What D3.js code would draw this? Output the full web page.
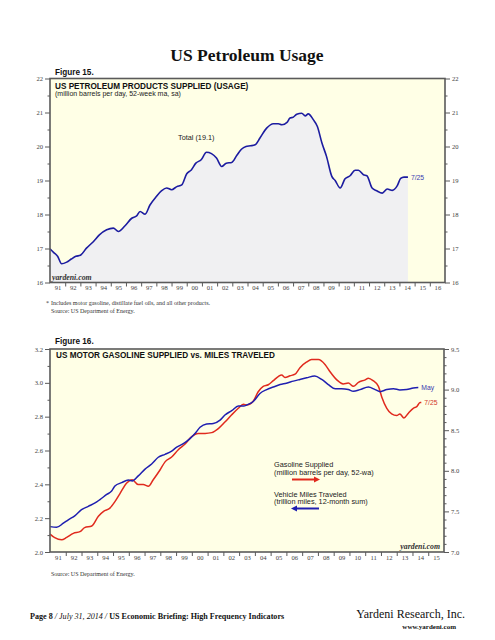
<!DOCTYPE html>
<html><head><meta charset="utf-8">
<script src="https://cdn.jsdelivr.net/npm/d3@7/dist/d3.min.js"></script>
<style>body{margin:0;background:#fff}</style>
</head><body>
<svg id="c" width="495" height="640"></svg>
<script>
// ---------- DATA ----------
// Figure 15: US petroleum products supplied (million b/d, 52-week ma)
const petroYears = [1991.0,1991.25,1991.5,1991.77,1992.1,1992.4,1992.7,1993.0,1993.4,1993.85,1994.25,1994.73,1995.17,1995.5,1995.94,1996.38,1996.7,1996.93,1997.26,1997.58,1998.0,1998.35,1998.68,1999.0,1999.35,1999.67,2000.0,2000.3,2000.6,2000.95,2001.3,2001.63,2001.96,2002.3,2002.6,2002.96,2003.3,2003.6,2003.9,2004.2,2004.5,2004.82,2005.26,2005.7,2006.03,2006.26,2006.6,2006.8,2007.0,2007.24,2007.57,2007.8,2008.0,2008.33,2008.6,2008.9,2009.2,2009.55,2009.77,2010.1,2010.42,2010.75,2011.08,2011.3,2011.63,2011.86,2012.2,2012.5,2012.87,2013.2,2013.53,2013.86,2014.08,2014.3,2014.56];
const petroValues = [16.99,16.88,16.77,16.55,16.6,16.69,16.77,16.8,17.01,17.2,17.4,17.55,17.6,17.5,17.67,17.89,17.96,18.09,18.01,18.28,18.53,18.7,18.78,18.73,18.82,18.87,19.2,19.31,19.51,19.61,19.83,19.79,19.66,19.41,19.51,19.53,19.74,19.92,20.0,20.02,20.05,20.25,20.54,20.67,20.67,20.64,20.71,20.84,20.86,20.95,20.98,20.9,20.96,20.79,20.59,20.1,19.71,19.12,19.0,18.78,19.05,19.14,19.3,19.3,19.17,19.14,18.78,18.7,18.63,18.75,18.71,18.85,19.06,19.1,19.1];
const petroTicks = [16,17,18,19,20,21,22];
const petroMinor = [16.5,17.5,18.5,19.5,20.5,21.5];
const fig15YearLabels = ['91','92','93','94','95','96','97','98','99','00','01','02','03','04','05','06','07','08','09','10','11','12','13','14','15','16'];

// Figure 16: vehicle miles traveled (trillion miles, 12-mo sum) - left axis
const vmtYears = [1991.0,1991.42,1991.85,1992.16,1992.59,1993.0,1993.43,1993.86,1994.17,1994.6,1994.91,1995.12,1995.55,1995.97,1996.22,1996.6,1997.03,1997.45,1997.87,1998.3,1998.72,1999.04,1999.46,1999.88,2000.2,2000.52,2000.94,2001.36,2001.79,2002.1,2002.53,2002.95,2003.3,2003.48,2003.9,2004.32,2004.75,2005.17,2005.6,2006.0,2006.44,2006.86,2007.29,2007.8,2008.24,2008.66,2009.1,2009.5,2009.93,2010.25,2010.67,2011.2,2011.63,2011.95,2012.37,2012.8,2013.2,2013.63,2014.05,2014.37];
const vmtValues = [2.15,2.146,2.17,2.19,2.215,2.25,2.27,2.29,2.31,2.34,2.36,2.39,2.41,2.425,2.42,2.45,2.49,2.52,2.56,2.577,2.597,2.62,2.64,2.67,2.70,2.737,2.757,2.76,2.78,2.81,2.835,2.863,2.863,2.869,2.89,2.937,2.96,2.975,2.99,2.998,3.01,3.02,3.03,3.04,3.02,2.99,2.965,2.965,2.96,2.95,2.96,2.975,2.96,2.948,2.96,2.965,2.958,2.96,2.97,2.973];
// Gasoline supplied (million b/d, 52-wa) - right axis
const gasYears = [1991.0,1991.3,1991.74,1992.06,1992.48,1992.9,1993.2,1993.65,1994.07,1994.4,1994.8,1995.12,1995.44,1995.87,1996.22,1996.6,1996.92,1997.24,1997.55,1997.98,1998.3,1998.72,1999.14,1999.57,1999.99,2000.4,2000.84,2001.26,2001.68,2002.1,2002.53,2002.95,2003.27,2003.48,2003.9,2004.2,2004.53,2004.85,2005.17,2005.48,2005.7,2005.91,2006.23,2006.55,2006.86,2007.29,2007.6,2008.03,2008.45,2008.77,2009.2,2009.6,2009.93,2010.25,2010.57,2011.0,2011.2,2011.5,2011.84,2012.05,2012.37,2012.68,2013.0,2013.2,2013.46,2013.74,2014.05,2014.27,2014.48,2014.56];
const gasValues = [7.22,7.176,7.15,7.18,7.23,7.25,7.30,7.32,7.44,7.50,7.54,7.62,7.72,7.85,7.89,7.83,7.83,7.81,7.89,8.01,8.11,8.17,8.26,8.33,8.42,8.46,8.46,8.47,8.52,8.60,8.69,8.77,8.82,8.81,8.86,8.97,9.04,9.06,9.11,9.16,9.18,9.15,9.17,9.19,9.27,9.34,9.37,9.37,9.31,9.22,9.12,9.07,9.08,9.04,9.09,9.12,9.14,9.11,9.04,8.91,8.77,8.70,8.68,8.70,8.65,8.71,8.77,8.79,8.84,8.84];
const vmtTicks = [2.0,2.2,2.4,2.6,2.8,3.0,3.2];
const vmtMinor = [2.1,2.3,2.5,2.7,2.9,3.1];
const gasTicks = [7.0,7.5,8.0,8.5,9.0,9.5];
const gasMinor = [7.1,7.2,7.3,7.4,7.6,7.7,7.8,7.9,8.1,8.2,8.3,8.4,8.6,8.7,8.8,8.9,9.1,9.2,9.3,9.4];
const fig16YearLabels = ['91','92','93','94','95','96','97','98','99','00','01','02','03','04','05','06','07','08','09','10','11','12','13','14','15'];

// ---------- DRAW ----------
const svg = d3.select('#c');
const SERIF = "'Liberation Serif','Times New Roman',serif";
const SANS = "'Liberation Sans',Arial,sans-serif";
const PLOTBG = '#ffffe6';
const FRAME = '#5a5a5a';

function styleAxis(g){
  g.select('.domain').remove();
  g.selectAll('line').attr('stroke', FRAME).attr('stroke-width', 1);
  g.selectAll('text').attr('font-family', SERIF).attr('font-size', 6.6).attr('fill', '#444');
}

function yAxes(x0, x1, y, major, minor, fmt, side){
  const ax = side === 'left' ? d3.axisLeft : d3.axisRight;
  const xp = side === 'left' ? x0 : x1;
  svg.append('g').attr('transform', `translate(${xp},0)`)
    .call(ax(y).tickValues(major).tickSize(5).tickPadding(2).tickFormat(fmt)).call(styleAxis);
  svg.append('g').attr('transform', `translate(${xp},0)`)
    .call(ax(y).tickValues(minor).tickSize(2.5).tickFormat('')).call(styleAxis);
}

function xAxes(x, y0, labels, startYear){
  const n = labels.length;
  svg.append('g').attr('transform', `translate(0,${y0})`)
    .call(d3.axisBottom(x).tickValues(d3.range(startYear + 1, startYear + n)).tickSize(4).tickFormat('')).call(styleAxis);
  svg.append('g').attr('transform', `translate(0,${y0})`)
    .call(d3.axisBottom(x).tickValues(d3.range(n).map(i => startYear + i + 0.5)).tickSize(0).tickPadding(3)
      .tickFormat((d, i) => labels[i])).call(styleAxis);
}

function frame(x0, y0, x1, y1){
  svg.append('rect').attr('x', x0).attr('y', y0).attr('width', x1 - x0).attr('height', y1 - y0)
    .attr('fill', 'none').attr('stroke', FRAME).attr('stroke-width', 1.6);
}

// Page title
svg.append('text').attr('x', 247).attr('y', 61).attr('text-anchor', 'middle')
  .attr('font-family', SERIF).attr('font-weight', 'bold').attr('font-size', 17.5).attr('fill', '#111')
  .text('US Petroleum Usage');

// ===== Figure 15 =====
{
  const L = 50, R = 445, T = 78.5, B = 282.5;
  const x = d3.scaleLinear().domain([1991, 1991 + fig15YearLabels.length]).range([L, R]);
  const y = d3.scaleLinear().domain([16, 22]).range([B, T]);
  svg.append('rect').attr('x', L).attr('y', T).attr('width', R - L).attr('height', B - T).attr('fill', PLOTBG);
  const pts = petroYears.map((d, i) => [d, petroValues[i]]);
  svg.append('path').datum(pts)
    .attr('d', d3.area().x(d => x(d[0])).y0(B).y1(d => y(d[1])).curve(d3.curveMonotoneX))
    .attr('fill', '#f0f0f2');
  svg.append('path').datum(pts)
    .attr('d', d3.line().x(d => x(d[0])).y(d => y(d[1])).curve(d3.curveMonotoneX))
    .attr('fill', 'none').attr('stroke', '#1c1ca0').attr('stroke-width', 1.6);
  frame(L, T, R, B);
  yAxes(L, R, y, petroTicks, petroMinor, d3.format('d'), 'left');
  yAxes(L, R, y, petroTicks, petroMinor, d3.format('d'), 'right');
  xAxes(x, B, fig15YearLabels, 1991);

  svg.append('text').attr('x', 55).attr('y', 75).attr('font-family', SANS).attr('font-weight', 'bold')
    .attr('font-size', 8.2).attr('fill', '#111').text('Figure 15.');
  svg.append('text').attr('x', 55).attr('y', 88.5).attr('font-family', SANS).attr('font-weight', 'bold')
    .attr('font-size', 8.2).attr('fill', '#111').text('US PETROLEUM PRODUCTS SUPPLIED (USAGE)');
  svg.append('text').attr('x', 55).attr('y', 96).attr('font-family', SANS)
    .attr('font-size', 7).attr('fill', '#222').text('(million barrels per day, 52-week ma, sa)');
  svg.append('text').attr('x', 178).attr('y', 140).attr('font-family', SANS)
    .attr('font-size', 7.3).attr('fill', '#222').text('Total (19.1)');
  const last = pts[pts.length - 1];
  svg.append('text').attr('x', x(last[0]) + 3).attr('y', y(last[1]) + 2.5).attr('font-family', SANS)
    .attr('font-size', 6.8).attr('fill', '#3a3ab0').text('7/25');
  svg.append('text').attr('x', 52).attr('y', 280).attr('font-family', SERIF).attr('font-style', 'italic')
    .attr('font-weight', 'bold').attr('font-size', 7.8).attr('fill', '#333').text('yardeni.com');

  svg.append('text').attr('x', 46).attr('y', 305).attr('font-family', SERIF).attr('font-size', 6)
    .attr('fill', '#333').text('*');
  svg.append('text').attr('x', 51).attr('y', 305).attr('font-family', SERIF).attr('font-size', 6)
    .attr('fill', '#333').text('Includes motor gasoline, distillate fuel oils, and all other products.');
  svg.append('text').attr('x', 51).attr('y', 312.5).attr('font-family', SERIF).attr('font-size', 6)
    .attr('fill', '#333').text('Source: US Department of Energy.');
}

// ===== Figure 16 =====
{
  const L = 50, R = 444, T = 349, B = 552;
  const x = d3.scaleLinear().domain([1991, 1991 + fig16YearLabels.length]).range([L, R]);
  const yL = d3.scaleLinear().domain([2.0, 3.2]).range([B, T]);
  const yR = d3.scaleLinear().domain([7.0, 9.5]).range([B, T]);
  svg.append('rect').attr('x', L).attr('y', T).attr('width', R - L).attr('height', B - T).attr('fill', PLOTBG);
  const gas = gasYears.map((d, i) => [d, gasValues[i]]);
  const vmt = vmtYears.map((d, i) => [d, vmtValues[i]]);
  svg.append('path').datum(gas)
    .attr('d', d3.line().x(d => x(d[0])).y(d => yR(d[1])).curve(d3.curveMonotoneX))
    .attr('fill', 'none').attr('stroke', '#e02a1e').attr('stroke-width', 1.5);
  svg.append('path').datum(vmt)
    .attr('d', d3.line().x(d => x(d[0])).y(d => yL(d[1])).curve(d3.curveMonotoneX))
    .attr('fill', 'none').attr('stroke', '#1f1fb0').attr('stroke-width', 1.5);
  frame(L, T, R, B);
  yAxes(L, R, yL, vmtTicks, vmtMinor, d3.format('.1f'), 'left');
  yAxes(L, R, yR, gasTicks, gasMinor, d3.format('.1f'), 'right');
  xAxes(x, B, fig16YearLabels, 1991);

  svg.append('text').attr('x', 55).attr('y', 344).attr('font-family', SANS).attr('font-weight', 'bold')
    .attr('font-size', 8.2).attr('fill', '#111').text('Figure 16.');
  svg.append('text').attr('x', 56).attr('y', 358).attr('font-family', SANS).attr('font-weight', 'bold')
    .attr('font-size', 8.2).attr('fill', '#111').text('US MOTOR GASOLINE SUPPLIED vs. MILES TRAVELED');

  const lv = vmt[vmt.length - 1], lg = gas[gas.length - 1];
  svg.append('text').attr('x', x(lv[0]) + 3).attr('y', yL(lv[1]) + 2.5).attr('font-family', SANS)
    .attr('font-size', 6.8).attr('fill', '#3a3ab0').text('May');
  svg.append('text').attr('x', x(lg[0]) + 3).attr('y', yR(lg[1]) + 2.5).attr('font-family', SANS)
    .attr('font-size', 6.8).attr('fill', '#d0362a').text('7/25');

  // legend
  const lt = (yy, t) => svg.append('text').attr('x', 274).attr('y', yy).attr('font-family', SANS)
    .attr('font-size', 7.3).attr('fill', '#222').text(t);
  lt(467, 'Gasoline Supplied');
  lt(474.5, '(million barrels per day, 52-wa)');
  lt(496.5, 'Vehicle Miles Traveled');
  lt(504, '(trillion miles, 12-month sum)');
  const defs = svg.append('defs');
  [['ar', '#e02a1e'], ['ab', '#1f1fb0']].forEach(([id, c]) => {
    defs.append('marker').attr('id', id).attr('viewBox', '0 0 10 10').attr('refX', 5).attr('refY', 5)
      .attr('markerWidth', 3.2).attr('markerHeight', 3.2).attr('orient', 'auto-start-reverse')
      .append('path').attr('d', 'M0,0L10,5L0,10z').attr('fill', c);
  });
  svg.append('line').attr('x1', 292).attr('x2', 317).attr('y1', 479.5).attr('y2', 479.5)
    .attr('stroke', '#e02a1e').attr('stroke-width', 2).attr('marker-end', 'url(#ar)');
  svg.append('line').attr('x1', 294).attr('x2', 319).attr('y1', 508.5).attr('y2', 508.5)
    .attr('stroke', '#1f1fb0').attr('stroke-width', 2).attr('marker-start', 'url(#ab)');

  svg.append('text').attr('x', 440).attr('y', 549).attr('text-anchor', 'end').attr('font-family', SERIF)
    .attr('font-style', 'italic').attr('font-weight', 'bold').attr('font-size', 7.8).attr('fill', '#333')
    .text('yardeni.com');
  svg.append('text').attr('x', 51).attr('y', 575.5).attr('font-family', SERIF).attr('font-size', 6)
    .attr('fill', '#333').text('Source: US Department of Energy.');
}

// Footer
{
  const f = svg.append('text').attr('x', 30).attr('y', 619).attr('font-family', SERIF)
    .attr('font-size', 8.1).attr('fill', '#111');
  f.append('tspan').attr('font-weight', 'bold').text('Page 8 ');
  f.append('tspan').attr('font-style', 'italic').text('/ July 31, 2014 / ');
  f.append('tspan').attr('font-weight', 'bold').text(' US Economic Briefing: High Frequency Indicators');
  svg.append('text').attr('x', 465).attr('y', 618).attr('text-anchor', 'end').attr('font-family', SERIF)
    .attr('font-size', 12).attr('fill', '#111').text('Yardeni Research, Inc.');
  svg.append('text').attr('x', 456).attr('y', 628.5).attr('text-anchor', 'end').attr('font-family', SERIF)
    .attr('font-weight', 'bold').attr('font-size', 7).attr('fill', '#111').text('www.yardeni.com');
}
</script>
</body></html>
